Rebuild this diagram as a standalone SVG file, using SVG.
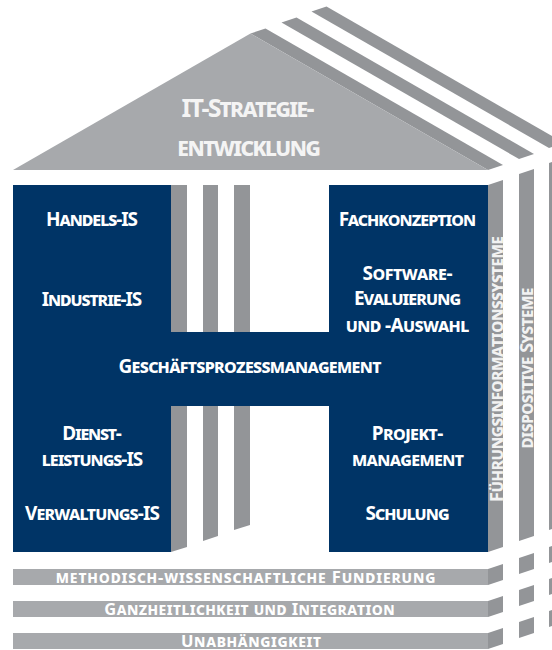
<svg xmlns="http://www.w3.org/2000/svg" width="552" height="650" viewBox="0 0 552 650">
<style>
.front{fill:#003466}
.side{fill:#939598}
.light{fill:#a7a9ac}
text{font-family:"Noto Sans","Open Sans","Liberation Sans",sans-serif;font-weight:700;font-variant:small-caps;fill:#ffffff;text-anchor:middle}
.lbl{font-size:19px}
.roof{font-size:25px;fill:#f4f4f4}
.bar{font-size:16.5px}
.vert{font-size:18px;fill:#f2f2f2}
</style>
<rect width="552" height="650" fill="#ffffff"/>
<g id="roof">
<polygon class="side" points="311.5,11.5 326.5,6.5 564,143 549,148"/>
<polygon class="side" points="281.5,22.5 296.5,17.5 534,154 519,159"/>
<polygon class="side" points="250.5,33.5 265.5,28.5 503,165 488,170"/>
<polygon class="light" points="13,170 250.5,33.5 488,170"/>
<text class="roof" x="248" y="116.5" textLength="133" lengthAdjust="spacing">IT-Strategie-</text>
<text class="roof" x="249" y="156" textLength="143.5" lengthAdjust="spacing">entwicklung</text>
</g>
<g id="pillars">
<polygon class="side" points="549,163 564,158 564,525 549,530"/>
<polygon class="side" points="519,174 534,169 534,536 519,541"/>
<polygon class="side" points="488,185 503,180 503,547 488,552"/>
<rect class="side" x="171" y="185" width="16" height="147"/>
<rect class="side" x="203" y="185" width="15" height="147"/>
<rect class="side" x="234" y="185" width="16" height="147"/>
<polygon class="side" points="171,406 187,406 187,547 171,552"/>
<polygon class="side" points="203,406 218,406 218,536 203,541"/>
<polygon class="side" points="234,406 250,406 250,525 234,530"/>
</g>
<g id="front">
<path class="front" d="M13,185 H171 V332 H329 V185 H488 V552 H329 V406 H171 V552 H13 Z"/>
</g>
<g id="fuehrungsinformationssysteme">
<text class="vert" transform="translate(502.5,369) rotate(-90)" textLength="266" lengthAdjust="spacing">Führungsinformationssysteme</text>
</g>
<g id="dispositive-systeme">
<text class="vert" transform="translate(533,368) rotate(-90)" textLength="161" lengthAdjust="spacing">dispositive Systeme</text>
</g>
<g id="handels-is"><text class="lbl" x="92" y="226" textLength="92" lengthAdjust="spacing">Handels-IS</text></g>
<g id="industrie-is"><text class="lbl" x="92" y="306" textLength="100.5" lengthAdjust="spacing">Industrie-IS</text></g>
<g id="fachkonzeption"><text class="lbl" x="407.5" y="226" textLength="137.5" lengthAdjust="spacing">Fachkonzeption</text></g>
<g id="software-auswahl">
<text class="lbl" x="407.5" y="280" textLength="90" lengthAdjust="spacing">Software-</text>
<text class="lbl" x="407.5" y="305" textLength="107" lengthAdjust="spacing">Evaluierung</text>
<text class="lbl" x="407.5" y="331.5" textLength="123.5" lengthAdjust="spacing">und -Auswahl</text>
</g>
<g id="geschaeftsprozessmanagement"><text class="lbl" x="250" y="373" textLength="263" lengthAdjust="spacing">Geschäftsprozessmanagement</text></g>
<g id="dienstleistungs-is">
<text class="lbl" x="92" y="439.5" textLength="59.5" lengthAdjust="spacing">Dienst-</text>
<text class="lbl" x="92.5" y="466" textLength="101.5" lengthAdjust="spacing">leistungs-IS</text>
</g>
<g id="verwaltungs-is"><text class="lbl" x="92.5" y="519.5" textLength="135" lengthAdjust="spacing">Verwaltungs-IS</text></g>
<g id="projektmanagement">
<text class="lbl" x="407.5" y="440" textLength="71.5" lengthAdjust="spacing">Projekt-</text>
<text class="lbl" x="408" y="466" textLength="112" lengthAdjust="spacing">management</text>
</g>
<g id="schulung"><text class="lbl" x="407.5" y="520" textLength="84" lengthAdjust="spacing">Schulung</text></g>
<g id="fundierung">
<rect class="light" x="13" y="569" width="475" height="16"/>
<polygon class="side" points="488,585 488,569 503,564 503,580"/>
<polygon class="side" points="519,574 519,558 534,553 534,569"/>
<polygon class="side" points="549,563 549,547 564,542 564,558"/>
<text class="bar" x="245.5" y="582.5" textLength="379.5" lengthAdjust="spacing">methodisch-wissenschaftliche Fundierung</text>
</g>
<g id="ganzheitlichkeit">
<rect class="light" x="13" y="601" width="475" height="16"/>
<polygon class="side" points="488,617 488,601 503,596 503,612"/>
<polygon class="side" points="519,606 519,590 534,585 534,601"/>
<polygon class="side" points="549,595 549,579 564,574 564,590"/>
<text class="bar" x="249.5" y="614.5" textLength="290.5" lengthAdjust="spacing">Ganzheitlichkeit und Integration</text>
</g>
<g id="unabhaengigkeit">
<rect class="light" x="13" y="633" width="475" height="16"/>
<polygon class="side" points="488,649 488,633 503,628 503,644"/>
<polygon class="side" points="519,638 519,622 534,617 534,633"/>
<polygon class="side" points="549,627 549,611 564,606 564,622"/>
<text class="bar" x="251" y="646.5" textLength="140" lengthAdjust="spacing">Unabhängigkeit</text>
</g>
</svg>
